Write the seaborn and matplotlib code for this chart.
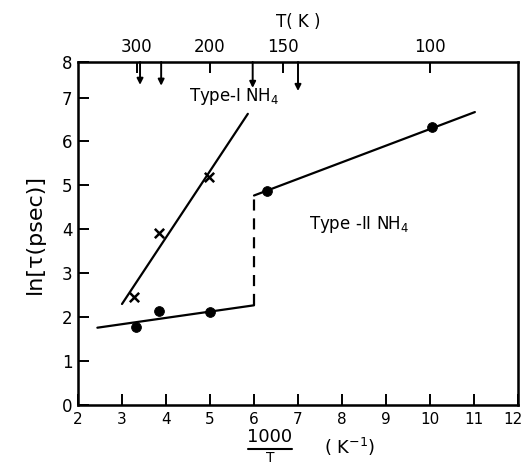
import numpy as np
import pandas as pd
import seaborn as sns
import matplotlib.pyplot as plt
import matplotlib.transforms as mtransforms

# Measured ln(tau) against 1000/T
type1_x = [3.28, 3.85, 4.98]
type1_y = [2.46, 3.92, 5.19]
type2_x = [3.32, 3.85, 5.00, 6.29, 10.04]
type2_y = [1.78, 2.14, 2.12, 4.87, 6.33]

# Straight-line fits
fit1_x = [3.00, 5.86]
fit1_y = [2.30, 6.63]
fit_low_x = [2.44, 6.00]
fit_low_y = [1.76, 2.27]
jump_x = [6.00, 6.00]
jump_y = [2.27, 4.77]
fit_high_x = [6.00, 11.02]
fit_high_y = [4.77, 6.67]

# Temperature scale on top and marked transition temperatures
temp_ticks = [300, 200, 150, 100]
arrow_x = [3.41, 3.89, 5.97, 7.00]
arrow_tip = [7.29, 7.27, 7.22, 7.15]

x_ticks = list(range(2, 13))
y_ticks = list(range(0, 8))

sns.set_style("ticks")
plt.rcParams["font.family"] = ["DejaVu Sans"]
for key in ["text.color", "axes.labelcolor", "xtick.color", "ytick.color", "axes.edgecolor"]:
    plt.rcParams[key] = "black"

fig = plt.figure(figsize=(5.26, 4.65), dpi=100)
ax = fig.add_axes([78 / 526, 1 - 405 / 465, 440 / 526, 343 / 465])

ytop = 7.81
ax.set_xlim(2, 12)
ax.set_ylim(0, ytop)

line_kw = dict(color="black", linewidth=1.6, ax=ax, legend=False)
sns.lineplot(x=fit1_x, y=fit1_y, **line_kw)
sns.lineplot(x=fit_low_x, y=fit_low_y, **line_kw)
sns.lineplot(x=fit_high_x, y=fit_high_y, **line_kw)
ax.plot(jump_x, jump_y, color="black", linewidth=1.6, linestyle=(0, (5, 3.5)))

sns.scatterplot(x=type1_x, y=type1_y, marker="x", s=45, color="black",
                linewidth=1.8, ax=ax, zorder=3)
sns.scatterplot(x=type2_x, y=type2_y, marker="o", s=50, color="black",
                edgecolor="black", ax=ax, zorder=3)

ax.text(5.54, 7.02, "Type-I NH$_4$", fontsize=12, ha="center", va="center")
ax.text(8.39, 4.10, "Type -II NH$_4$", fontsize=12, ha="center", va="center")

for xa, tip in zip(arrow_x, arrow_tip):
    ax.annotate("", xy=(xa, tip), xytext=(xa, ytop),
                arrowprops=dict(arrowstyle="-|>", color="black", lw=1.4,
                                mutation_scale=9, shrinkA=0, shrinkB=0))

ax.set_xticks(x_ticks, labels=[str(v) for v in x_ticks])
ax.set_yticks(y_ticks + [ytop], labels=[str(v) for v in y_ticks] + ["8"])
ax.tick_params(direction="in", length=8, width=1.4, labelsize=12, pad=4)
ax.tick_params(axis="x", pad=5, labelsize=11)
for s in ax.spines.values():
    s.set_linewidth(1.8)
    s.set_visible(True)

# keep the last x label inside the canvas
last = ax.get_xticklabels()[-1]
last.set_transform(last.get_transform() +
                   mtransforms.ScaledTranslation(-5 / 100, 0, fig.dpi_scale_trans))

ax2 = ax.twiny()
ax2.set_xlim(ax.get_xlim())
ax2.set_xticks([1000 / t for t in temp_ticks], labels=[str(t) for t in temp_ticks])
ax2.tick_params(direction="in", length=8, width=1.4, labelsize=12, pad=4)
ax2.set_xlabel("T( K )", fontsize=12, labelpad=8)

ax.set_ylabel("ln[τ(psec)]", fontsize=16, labelpad=12)

# x-axis label written as a stacked fraction
fig.text(270 / 526, 1 - 437 / 465, "1000", fontsize=13, ha="center", va="center")
fig.add_artist(plt.Line2D([248 / 526, 292 / 526], [1 - 449 / 465, 1 - 449 / 465],
                          color="black", linewidth=1.5))
fig.text(270 / 526, 1 - 458 / 465, "T", fontsize=10, ha="center", va="center")
fig.text(350 / 526, 1 - 447 / 465, "( K$^{-1}$)", fontsize=13, ha="center", va="center")

fig.savefig("out.png", dpi=100, facecolor="white")
